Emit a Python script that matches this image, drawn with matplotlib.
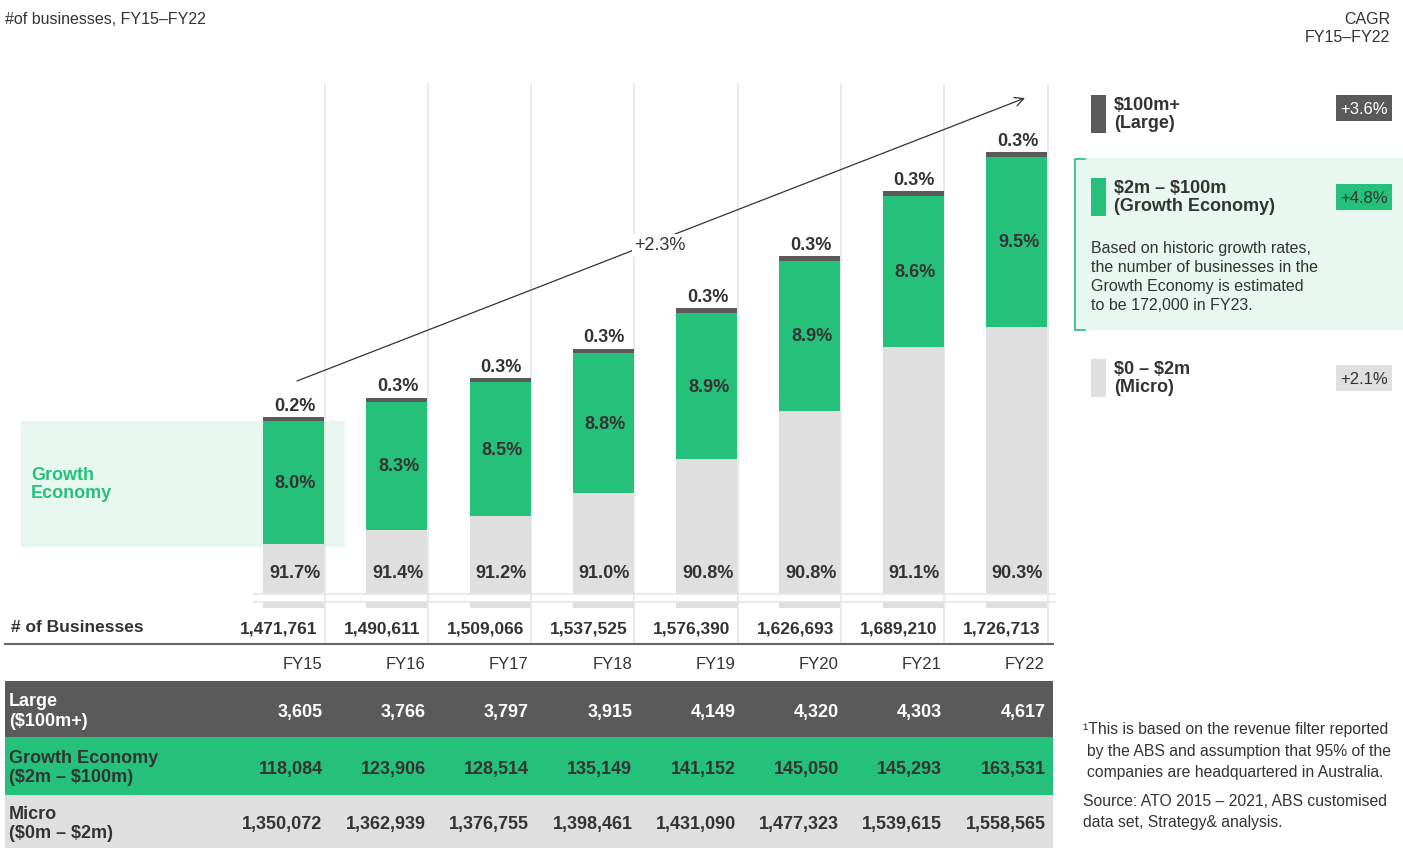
import matplotlib
matplotlib.use("Agg")
import matplotlib.pyplot as plt
from matplotlib.patches import Rectangle
import numpy as np

plt.rcParams['font.family'] = ['Liberation Sans', 'DejaVu Sans']
plt.rcParams['text.parse_math'] = False

# ---------------- data ----------------
years = ['FY15', 'FY16', 'FY17', 'FY18', 'FY19', 'FY20', 'FY21', 'FY22']
large = [3605, 3766, 3797, 3915, 4149, 4320, 4303, 4617]
growth = [118084, 123906, 128514, 135149, 141152, 145050, 145293, 163531]
micro = [1350072, 1362939, 1376755, 1398461, 1431090, 1477323, 1539615, 1558565]
totals = [1471761, 1490611, 1509066, 1537525, 1576390, 1626693, 1689210, 1726713]
large_lbl = ['0.2%', '0.3%', '0.3%', '0.3%', '0.3%', '0.3%', '0.3%', '0.3%']
growth_lbl = ['8.0%', '8.3%', '8.5%', '8.8%', '8.9%', '8.9%', '8.6%', '9.5%']
micro_lbl = ['91.7%', '91.4%', '91.2%', '91.0%', '90.8%', '90.8%', '91.1%', '90.3%']
cagr_total = '+2.3%'
cagr_large = '+3.6%'
cagr_growth = '+4.8%'
cagr_micro = '+2.1%'
row_labels = ['Large\n($100m+)', 'Growth Economy\n($2m – $100m)', 'Micro\n($0m – $2m)']

# ---------------- style ----------------
GREEN = '#25C17B'
DARK = '#5A5A5A'
LIGHT = '#DFDFDF'
PALE = '#E8F7EF'
TXT = '#333333'
SEP = '#E4E4E4'
DY = 1.5   # visual centring correction for text

W, H = 1403, 848
fig = plt.figure(figsize=(W / 100, H / 100), dpi=100)
fig.patch.set_facecolor('white')

# layout axes in pixel coordinates
lay = fig.add_axes([0, 0, 1, 1], zorder=0)
lay.set_xlim(0, W)
lay.set_ylim(H, 0)
lay.axis('off')


def txt(x, y, s, **kw):
    kw.setdefault('va', 'center')
    return lay.text(x, y + DY, s, **kw)


def lines(x, yc, text, gap, **kw):
    parts = text.split('\n')
    k = len(parts)
    for j, p in enumerate(parts):
        txt(x, yc + (j - (k - 1) / 2) * gap, p, **kw)


# bar axes geometry
SP = 103.29            # px per category
X0 = 241.86            # px of x=-0.5
BWPX = 61.0
BW = BWPX / SP
Y_BOT, Y_TOP = 592.7, 84.0
BASE = 1303000
PXU = 1.04e-3          # px per business
n = len(years)
X1 = X0 + n * SP

ax = fig.add_axes([X0 / W, 1 - Y_BOT / H, (X1 - X0) / W, (Y_BOT - Y_TOP) / H], zorder=2)
ax.patch.set_alpha(0)
ax.set_xlim(-0.5, n - 0.5)
ax.set_ylim(BASE, BASE + (Y_BOT - Y_TOP) / PXU)
ax.axis('off')

x = np.arange(n)
mic = np.array(micro)
gro = np.array(growth)
lar = np.array(large)
ax.bar(x, mic - BASE, bottom=BASE, width=BW, color=LIGHT, linewidth=0)
ax.bar(x, gro, bottom=mic, width=BW, color=GREEN, linewidth=0)
ax.bar(x, lar, bottom=mic + gro, width=BW, color=DARK, linewidth=0)

for i in range(n):
    ax.annotate(micro_lbl[i], xy=(i, BASE), xytext=(1, 19), textcoords='offset pixels',
                ha='center', va='center', fontsize=13, fontweight='bold', color=TXT)
    ax.annotate(growth_lbl[i], xy=(i, mic[i] + gro[i] / 2), xytext=(2, -1), textcoords='offset pixels',
                ha='center', va='center', fontsize=13, fontweight='bold', color=TXT)
    ax.annotate(large_lbl[i], xy=(i, totals[i]), xytext=(1, 11), textcoords='offset pixels',
                ha='center', va='center', fontsize=13, fontweight='bold', color=TXT)


def cx(i):
    return X0 + (i + 0.5) * SP


def rx(i):
    return cx(i) + BWPX / 2


# column separators
for i in range(n):
    xs = rx(i) + 0.5
    lay.plot([xs, xs], [Y_TOP, 643], color=SEP, lw=1.1, zorder=1)

# axis break
lay.plot([254, 1055], [593.6, 593.6], color=SEP, lw=1.1, zorder=1)
lay.plot([254, 1055], [601.6, 601.6], color=SEP, lw=1.1, zorder=1)
for i in range(n):
    lay.add_patch(Rectangle((cx(i) - BWPX / 2, 602.2), BWPX, 5.6, color=LIGHT, lw=0, zorder=1))

# left growth economy panel
lay.add_patch(Rectangle((21, 421), 324, 126, color=PALE, lw=0, zorder=0.5))
lines(31, 483, 'Growth\nEconomy', 18, color=GREEN, fontsize=13, fontweight='bold', ha='left')

# trend arrow
lay.annotate('', xy=(1025, 98), xytext=(297, 381),
             arrowprops=dict(arrowstyle='->', color='#333333', lw=0.9, mutation_scale=16,
                             shrinkA=0, shrinkB=0), zorder=3)
txt(660, 244, cagr_total, ha='center', fontsize=13, color=TXT, zorder=4,
    bbox=dict(boxstyle='square,pad=0.15', fc='white', ec='none'))

# title
txt(5, 18, '#of businesses, FY15–FY22', fontsize=11.5, color=TXT, ha='left')

# # of businesses row
txt(11, 626, '# of Businesses', fontsize=12.5, fontweight='bold', color=TXT, ha='left')
for i in range(n):
    txt(rx(i) - 6.5, 628, f'{totals[i]:,}', fontsize=12.5, fontweight='bold', color=TXT, ha='right')
lay.plot([5, 1053], [643.8, 643.8], color='#666666', lw=1.5, zorder=2)

# FY labels
for i in range(n):
    txt(rx(i) - 2, 663, years[i], fontsize=12, color=TXT, ha='right')

# table
rows = [(681, 737, DARK, 'white', large), (737, 794.5, GREEN, TXT, growth), (794.5, 848, LIGHT, TXT, micro)]
for (y0, y1, bg, fg, vals), lab in zip(rows, row_labels):
    lay.add_patch(Rectangle((5, y0), 1048, y1 - y0, color=bg, lw=0, zorder=1))
    yc = (y0 + y1) / 2
    lines(9, yc + 1, lab, 19, fontsize=13, fontweight='bold', color=fg, ha='left', zorder=2)
    for i in range(n):
        txt(rx(i) - 1.5, yc + 2, f'{vals[i]:,}', fontsize=13, fontweight='bold', color=fg,
            ha='right', zorder=2)

# right legend
lines(1390, 27, 'CAGR\nFY15–FY22', 19, fontsize=11.5, color=TXT, ha='right')

lay.add_patch(Rectangle((1074, 158), 329, 172, color=PALE, lw=0, zorder=0.5))
lay.plot([1085, 1074.5, 1074.5, 1085], [158.5, 158.5, 330, 330], color=GREEN, lw=1.2, zorder=1)

legend_items = [
    (95, DARK, '$100m+\n(Large)', cagr_large, DARK, 'white', 95),
    (178, GREEN, '$2m – $100m\n(Growth Economy)', cagr_growth, GREEN, TXT, 184),
    (359, LIGHT, '$0 – $2m\n(Micro)', cagr_micro, LIGHT, TXT, 365),
]
for y0, col, lab, cg, bcol, bfg, by in legend_items:
    lay.add_patch(Rectangle((1091, y0), 15, 38, color=col, lw=0, zorder=1))
    lines(1114, y0 + 18, lab, 18, fontsize=13, fontweight='bold', color=TXT, ha='left', zorder=2)
    lay.add_patch(Rectangle((1336, by), 56, 26, color=bcol, lw=0, zorder=1))
    txt(1364, by + 13, cg, fontsize=12, color=bfg, ha='center', zorder=2)

desc = ['Based on historic growth rates,', 'the number of businesses in the',
        'Growth Economy is estimated', 'to be 172,000 in FY23.']
for k, line in enumerate(desc):
    txt(1091, 247 + 19 * k, line, fontsize=11.5, color=TXT, ha='left')

foot = [(1083, 728, '¹This is based on the revenue filter reported'),
        (1087, 750, 'by the ABS and assumption that 95% of the'),
        (1087, 771, 'companies are headquartered in Australia.'),
        (1083, 800, 'Source: ATO 2015 – 2021, ABS customised'),
        (1083, 821, 'data set, Strategy& analysis.')]
for fx, fy, line in foot:
    txt(fx, fy, line, fontsize=11.3, color=TXT, ha='left')

fig.savefig('out.png', dpi=100, facecolor='white')
